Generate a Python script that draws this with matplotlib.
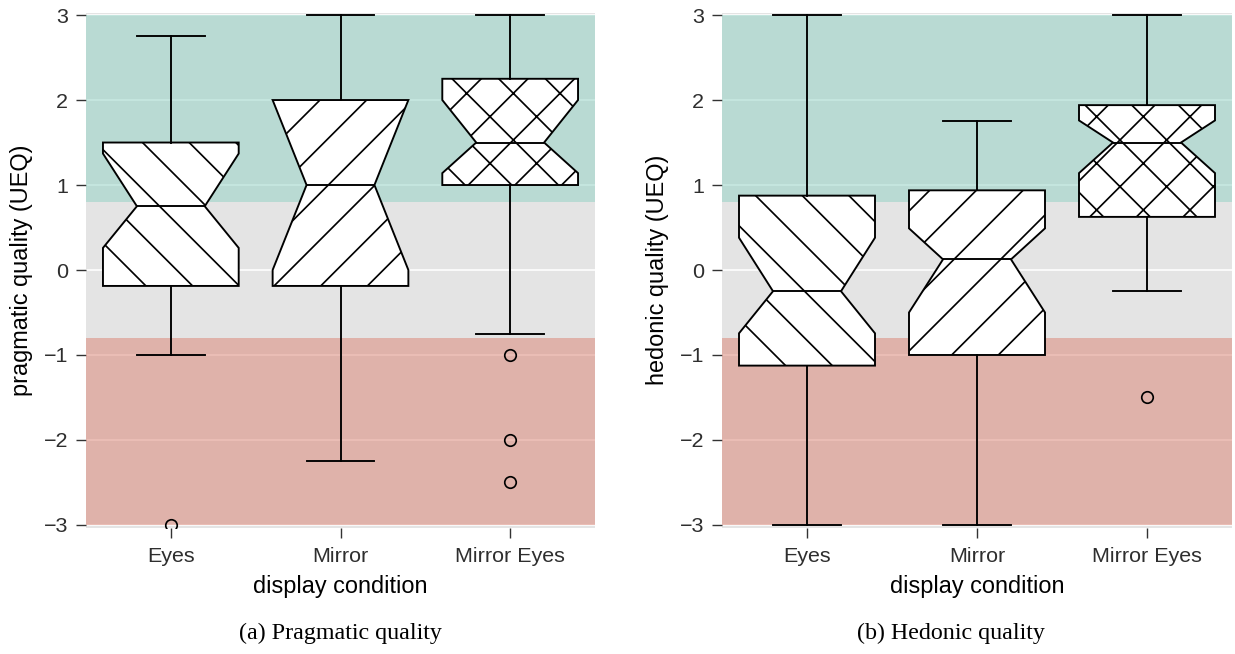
import matplotlib
matplotlib.use('Agg')
import matplotlib.pyplot as plt

# UEQ scores
conditions = ['Eyes', 'Mirror', 'Mirror Eyes']
hatches = ['\\\\', '//', 'xx']

pq_whislo = [-1.0, -2.25, -0.75]
pq_q1 = [-0.1875, -0.1875, 1.0]
pq_cilo = [0.26, 0.0, 1.14]
pq_med = [0.75, 1.0, 1.5]
pq_cihi = [1.37, 2.0, 2.0]
pq_q3 = [1.5, 2.0, 2.25]
pq_whishi = [2.75, 3.0, 3.0]
pq_fliers = [[-3.0], [], [-1.0, -2.0, -2.5]]

hq_whislo = [-3.0, -3.0, -0.25]
hq_q1 = [-1.125, -1.0, 0.625]
hq_cilo = [-0.745, -0.5, 1.14]
hq_med = [-0.25, 0.125, 1.5]
hq_cihi = [0.38, 0.49, 1.76]
hq_q3 = [0.875, 0.9375, 1.94]
hq_whishi = [3.0, 1.75, 3.0]
hq_fliers = [[], [], [-1.5]]

yticks = [-3, -2, -1, 0, 1, 2, 3]
band_good = 0.8
band_bad = -0.8

W, H, DPI = 1235, 654, 280

def px(v):
    # pixels -> points at the figure dpi
    return v * 72.0 / DPI

plt.rcParams['font.family'] = ['Liberation Sans', 'DejaVu Sans']
plt.rcParams['hatch.linewidth'] = px(1.7)


def make_stats(whislo, q1, cilo, med, cihi, q3, whishi, fliers):
    stats = []
    for k in range(len(conditions)):
        stats.append({'label': conditions[k], 'whislo': whislo[k], 'q1': q1[k],
                      'cilo': cilo[k], 'med': med[k], 'cihi': cihi[k],
                      'q3': q3[k], 'whishi': whishi[k], 'fliers': fliers[k]})
    return stats


def panel(ax, stats, ylabel):
    ax.set_facecolor('#E4E4E4')
    ax.set_axisbelow(True)
    ax.grid(axis='y', color='white', linewidth=px(1.6))
    ax.axhspan(band_good, 3, color='#90D2C4', alpha=0.5, lw=0, zorder=0.6)
    ax.axhspan(-3, band_bad, color='#DC8272', alpha=0.5, lw=0, zorder=0.6)

    lw = px(1.9)
    res = ax.bxp(stats, positions=[1, 2, 3], widths=0.8, patch_artist=True,
                 shownotches=True,
                 boxprops=dict(facecolor='white', edgecolor='black', linewidth=lw),
                 medianprops=dict(color='black', linewidth=lw),
                 whiskerprops=dict(color='black', linewidth=lw),
                 capprops=dict(color='black', linewidth=lw),
                 flierprops=dict(marker='o', markerfacecolor='none',
                                 markeredgecolor='black', markersize=px(11.5),
                                 markeredgewidth=px(1.7)),
                 zorder=2)
    for box, h in zip(res['boxes'], hatches):
        box.set_hatch(h)

    ax.set_xlim(0.5, 3.5)
    ax.set_ylim(-3.03, 3.03)
    ax.set_yticks(yticks)
    ax.set_xticks([1, 2, 3])
    ax.set_xticklabels(conditions)
    for s in ax.spines.values():
        s.set_visible(False)
    ax.tick_params(axis='both', length=px(10), width=px(1.4), color='#333333',
                   labelcolor='#2E2E2E', labelsize=px(21.5))
    ax.tick_params(axis='x', pad=px(9))
    ax.tick_params(axis='y', pad=px(8))
    ax.set_xlabel('display condition', fontsize=px(23.5), color='black')
    ax.set_ylabel(ylabel, fontsize=px(23.5), color='black')
    ax.xaxis.set_label_coords(0.5, -48.0 / 515)


fig = plt.figure(figsize=(W / DPI, H / DPI), dpi=DPI)

ax1 = fig.add_axes([86 / W, (H - 527.5) / H, 509 / W, 515 / H])
panel(ax1, make_stats(pq_whislo, pq_q1, pq_cilo, pq_med, pq_cihi, pq_q3, pq_whishi, pq_fliers),
      'pragmatic quality (UEQ)')
ax1.yaxis.set_label_coords((33 - 86) / 509, 0.5)

ax2 = fig.add_axes([722 / W, (H - 527.5) / H, 510 / W, 515 / H])
panel(ax2, make_stats(hq_whislo, hq_q1, hq_cilo, hq_med, hq_cihi, hq_q3, hq_whishi, hq_fliers),
      'hedonic quality (UEQ)')
ax2.yaxis.set_label_coords((669 - 722) / 510, 0.5)

fig.text(340 / W, 1 - 633 / H, '(a) Pragmatic quality', ha='center', va='center',
         fontsize=px(24), family=['Liberation Serif', 'DejaVu Serif'])
fig.text(951 / W, 1 - 633 / H, '(b) Hedonic quality', ha='center', va='center',
         fontsize=px(24), family=['Liberation Serif', 'DejaVu Serif'])

fig.savefig('out.png', dpi=DPI)
